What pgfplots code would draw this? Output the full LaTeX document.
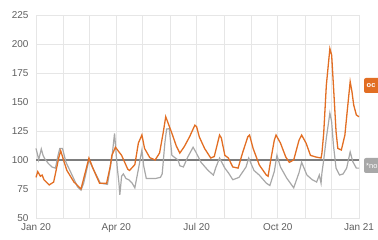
\documentclass[border=0pt]{standalone}
\usepackage{fontspec}
\setmainfont{Liberation Sans}
\usepackage{pgfplots}
\pgfplotsset{compat=1.18}
\definecolor{ingorange}{RGB}{226,110,35}
\definecolor{linegrey}{RGB}{168,168,168}
\definecolor{refgrey}{RGB}{125,125,125}
\definecolor{gridgrey}{RGB}{230,230,230}
\definecolor{labgrey}{RGB}{95,95,95}
\begin{document}
\begin{tikzpicture}
\useasboundingbox (0,0) rectangle (378bp,240bp);
\clip (0,0) rectangle (378bp,240bp);
\begin{axis}[
  at={(36bp,22bp)}, anchor=south west,
  scale only axis, width=323bp, height=203bp,
  xmin=0, xmax=366, ymin=50, ymax=225,
  xtick={0,91,182,274,366},
  xticklabels={Jan 20,Apr 20,Jul 20,Oct 20,Jan 21},
  minor xtick={31,60,121,152,213,244,305,335},
  ytick={50,75,100,125,150,175,200,225},
  grid=both,
  major grid style={draw=gridgrey, line width=0.8bp},
  minor grid style={draw=gridgrey, line width=0.8bp},
  axis line style={draw=gridgrey, line width=0.8bp},
  major tick length=0pt, minor tick length=0pt,
  /pgf/number format/assume math mode=true,
  ticklabel style={font=\fontsize{10}{12}\selectfont, text=labgrey},
  yticklabel style={xshift=-4bp},
  xticklabel style={yshift=-2bp},
  clip=false,
]
\addplot[refgrey, line width=1.2bp, forget plot] coordinates {(0,100) (366,100)};
\addplot[linegrey, line width=1.2bp] coordinates {
(0,110) (2,104) (3,100) (6,109.5) (8,104) (10,101) (14,97) (18,94) (22,93) (25,104)
(27,110) (30,110) (34,98) (39,90) (47,77) (51,74) (54,80) (60,100) (65,92) (73,80)
(81,79) (86,102) (89,123) (92,94) (94,80) (95,70) (97,86) (99,88) (102,84) (105,83)
(109,80) (112,76) (116,92) (120,108.6) (122,95) (125,84) (129,84) (135,84) (141,85) (143,88)
(146,114.6) (148,126.7) (151,127) (154,104) (158,101.7) (161,100) (163,95) (167,94) (172,102.6) (178,111)
(181,107) (187,98) (195,91) (201,87) (204,94) (208,101.7) (214,93) (218,89) (223,83) (230,85)
(238,94) (241,101.7) (247,91) (253,87) (261,80) (265,78) (270,90) (273,104) (277,94) (284,84.5)
(292,76) (298,89) (301,98) (307,87) (313,83) (318,81) (321,87) (323,80) (324,89) (326,100)
(329,119) (333,140.5) (335,133) (337,113) (340,93) (344,87) (348,88) (352,93) (356,107) (359,98.5)
(363,93) (366,93)
};
\addplot[ingorange, line width=1.3bp] coordinates {
(0,85) (2,90) (5,86) (7,87) (9,83) (15,78.5) (20,81) (26,102.6) (28,108) (32,98)
(35,91) (43,81) (51,75) (52,78) (60,101.7) (65,92) (72,80) (80,80) (84,94) (86,104)
(90,111) (93,108) (97,104) (104,92) (106,91) (112,96) (116,114.6) (120,121.6) (123,110) (129,102)
(135,100) (140,106) (144,123) (147,137.3) (154,123) (159,112) (163,106) (168,111.5) (174,120) (180,130)
(182,128.7) (185,120) (191,110) (198,101.7) (202,103) (208,121.5) (210,119) (214,104) (218,101.7) (223,94)
(229,93) (234,106) (240,120) (242,121.5) (246,110) (253,95.7) (261,87) (263,86) (266,100) (270,117)
(272,121.5) (277,114.6) (283,102.6) (287,98) (292,100) (298,117) (301,121.5) (306,114.6) (311,104) (317,102.6)
(323,101.7) (324,106) (326,123) (329,164.6) (333,196) (335,190.5) (337,164.6) (340,124.4) (342,110) (346,108.6)
(350,121.5) (353,144.8) (356,167.5) (358,159) (360,147.4) (363,138.8) (366,137.3)
};
\end{axis}
\fill[ingorange, rounded corners=2bp] (364bp,147bp) rectangle (390bp,162bp);
\node[text=white, anchor=west, inner sep=0pt, font=\fontsize{7.5}{9}\selectfont\bfseries] at (366.5bp,154.5bp) {oc};
\fill[linegrey, rounded corners=2bp] (364bp,67bp) rectangle (390bp,82bp);
\node[text=white, anchor=west, inner sep=0pt, font=\fontsize{7.5}{9}\selectfont] at (366bp,74.5bp) {*no};
\end{tikzpicture}
\end{document}
